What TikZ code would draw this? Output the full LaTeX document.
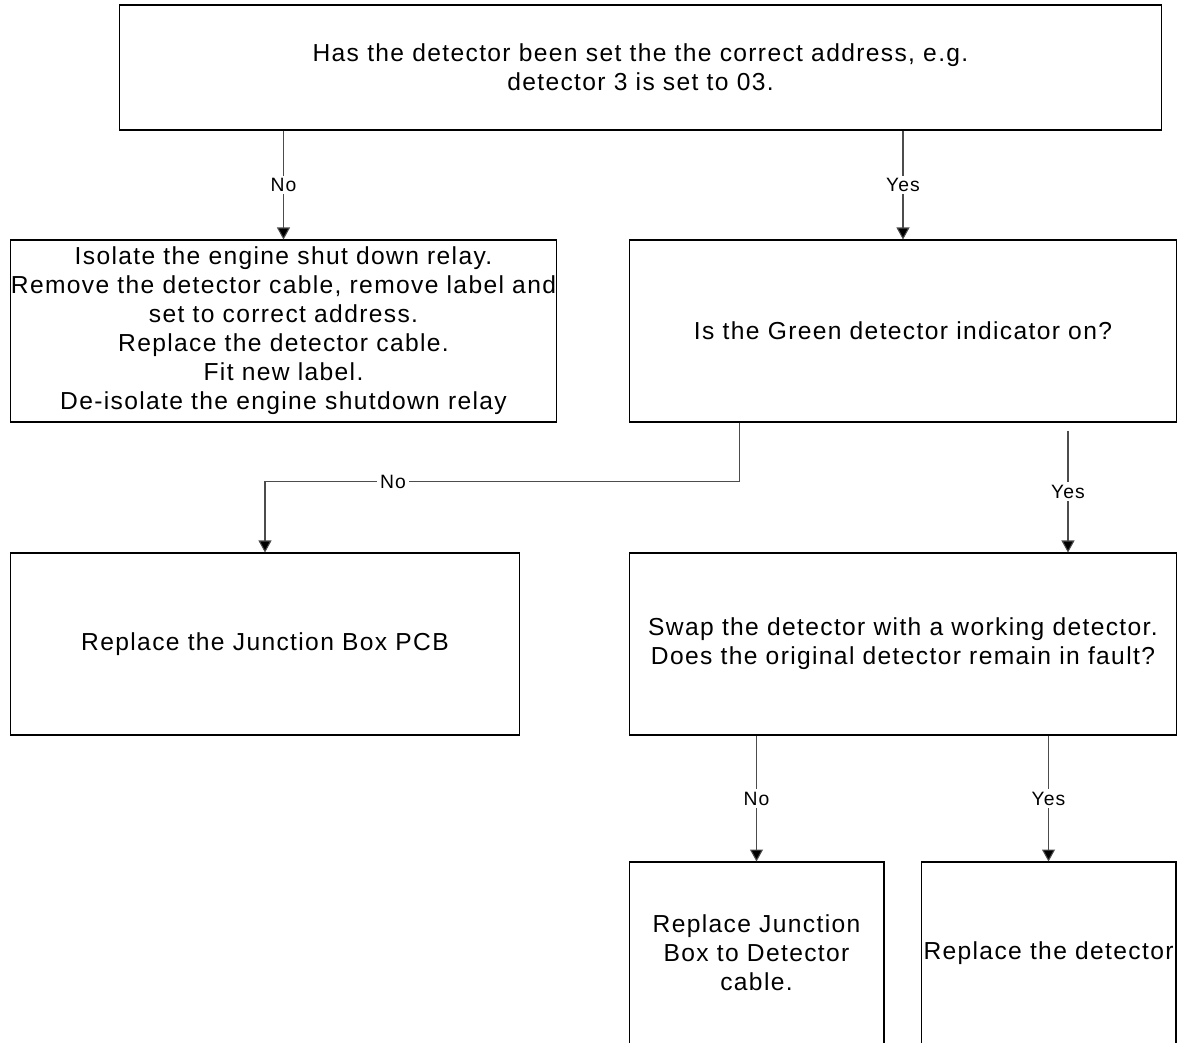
\documentclass[tikz,border=0pt]{standalone}
\usepackage{fontspec}
\setmainfont{Liberation Sans}[LetterSpace=5.5]
\usetikzlibrary{arrows.meta}

\begin{document}
\begin{tikzpicture}[x=0.02cm, y=-0.02cm,
          bx/.style={rectangle, draw=black, line width=0.6pt, align=center,
                     inner sep=0pt, font=\fontsize{14}{16.5}\selectfont},
          arr/.style={-{Triangle[length=0.24cm, width=0.26cm, fill=black]},
                      draw=black!70, line width=0.6pt},
          lbl/.style={fill=white, inner sep=1.5pt, font=\fontsize{11}{13}\selectfont}
        ]
        \useasboundingbox (0,0) rectangle (1192,1043);
        \clip (0,0) rectangle (1192,1043);

        \node[bx, text width=20.86cm, minimum height=2.5cm]
              (addr) at (640.5, 67.5)
              {Has the detector been set the the correct address, e.g.\\
               detector 3 is set to 03.};

        \node[bx, text width=10.94cm, minimum height=3.64cm]
              (iso) at (283.5, 331)
              {Isolate the engine shut down relay.\\
               Remove the detector cable, remove label and\\
               set to correct address.\\
               Replace the detector cable.\\
               Fit new label.\\
               De-isolate the engine shutdown relay};

        \node[bx, text width=10.96cm, minimum height=3.64cm]
              (grn) at (903, 331) {Is the Green detector indicator on?};

        \node[bx, text width=10.2cm, minimum height=3.64cm]
              (pcb) at (265, 644) {Replace the Junction Box PCB};

        \node[bx, text width=10.96cm, minimum height=3.64cm]
              (swap) at (903, 644)
              {Swap the detector with a working detector.\\
               Does the original detector remain in fault?};

        \node[bx, text width=5.1cm, minimum height=3.64cm]
              (cab) at (756.5, 953)
              {Replace Junction\\ Box to Detector\\ cable.};

        \node[bx, text width=5.1cm, minimum height=3.64cm]
              (det) at (1048.5, 953) {Replace the detector};

        \draw[arr] (addr.south -| iso.north) -- node[lbl]{No} (iso.north);
        \draw[arr] (addr.south -| grn.north) -- node[lbl]{Yes} (grn.north);
        \draw[arr] ([xshift=-3.28cm]grn.south) -- ++(0,59)
              -| node[lbl, pos=0.365]{No} (pcb.north);
        \draw[arr] ([xshift=3.3cm, yshift=-0.16cm]grn.south)
              -- node[lbl]{Yes} ([xshift=3.3cm]swap.north);
        \draw[arr] (swap.south -| cab.north) -- node[lbl]{No} (cab.north);
        \draw[arr] (swap.south -| det.north) -- node[lbl]{Yes} (det.north);
      \end{tikzpicture}
\end{document}
